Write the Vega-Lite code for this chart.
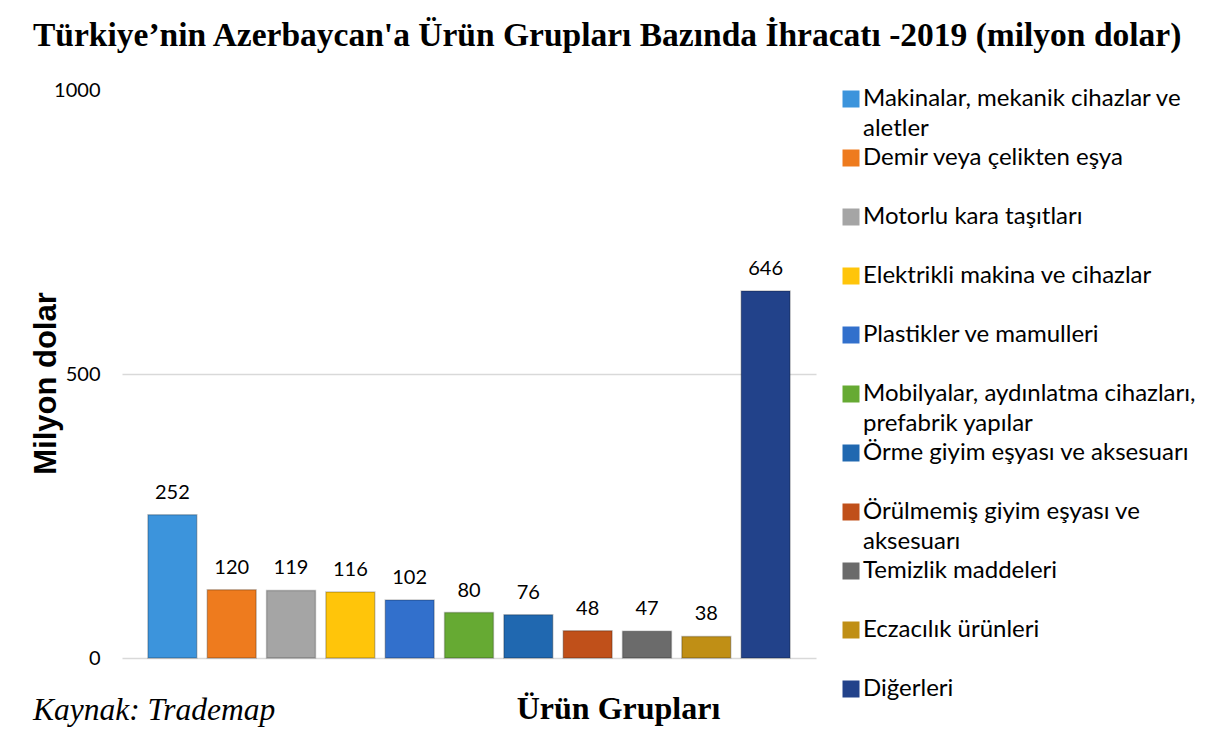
{
  "$schema": "https://vega.github.io/schema/vega-lite/v6.json",
  "width": 694,
  "height": 568,
  "autosize": "none",
  "padding": {"left": 122, "top": 90, "right": 400, "bottom": 71},
  "background": "white",
  "title": {
    "text": "Türkiye’nin Azerbaycan'a Ürün Grupları Bazında İhracatı -2019 (milyon dolar)",
    "anchor": "start",
    "frame": "group",
    "dx": -89,
    "offset": 1,
    "baseline": "alphabetic",
    "font": "Liberation Serif",
    "fontSize": 33.5,
    "fontWeight": "bold",
    "color": "#000000"
  },
  "config": {
    "view": {"stroke": null},
    "text": {"font": "Lato"},
    "style": {"guide-label": {"lineHeight": 30}}
  },
  "data": {
    "values": [
      {"urun": "Makinalar, mekanik cihazlar ve aletler", "deger": 252},
      {"urun": "Demir veya çelikten eşya", "deger": 120},
      {"urun": "Motorlu kara taşıtları", "deger": 119},
      {"urun": "Elektrikli makina ve cihazlar", "deger": 116},
      {"urun": "Plastikler ve mamulleri", "deger": 102},
      {"urun": "Mobilyalar, aydınlatma cihazları, prefabrik yapılar", "deger": 80},
      {"urun": "Örme giyim eşyası ve aksesuarı", "deger": 76},
      {"urun": "Örülmemiş giyim eşyası ve aksesuarı", "deger": 48},
      {"urun": "Temizlik maddeleri", "deger": 47},
      {"urun": "Eczacılık ürünleri", "deger": 38},
      {"urun": "Diğerleri", "deger": 646}
    ]
  },
  "encoding": {
    "x": {
      "field": "urun",
      "type": "nominal",
      "sort": null,
      "scale": {"paddingInner": 0.176, "paddingOuter": 0.437},
      "axis": {
        "labels": false,
        "ticks": false,
        "domain": false,
        "title": "Ürün Grupları",
        "titleFont": "Liberation Serif",
        "titleFontSize": 32,
        "titleFontWeight": "bold",
        "titleColor": "#000000",
        "titleX": 496,
        "titleY": 60,
        "titleAlign": "center",
        "titleBaseline": "alphabetic"
      }
    }
  },
  "layer": [
    {
      "mark": {"type": "bar", "stroke": "#000000", "strokeOpacity": 0.22, "strokeWidth": 1.5},
      "encoding": {
        "y": {
          "field": "deger",
          "type": "quantitative",
          "scale": {"domain": [0, 1000]},
          "axis": {
            "values": [0, 500, 1000],
            "format": "d",
            "ticks": false,
            "domain": false,
            "grid": true,
            "gridColor": "#d9d9d9",
            "gridWidth": 1.5,
            "gridOpacity": {"condition": {"test": "datum.value === 1000", "value": 0}, "value": 1},
            "labelFont": "Lato",
            "labelFontSize": 20,
            "labelColor": "#000000",
            "labelPadding": 22,
            "title": "Milyon dolar",
            "titleFont": "Liberation Sans",
            "titleFontSize": 31,
            "titleFontWeight": "bold",
            "titleColor": "#000000",
            "titleAngle": -90,
            "titleX": -67,
            "titleY": 293,
            "titleAlign": "center",
            "titleBaseline": "alphabetic"
          }
        },
        "fill": {
          "field": "urun",
          "type": "nominal",
          "sort": null,
          "scale": {
            "range": ["#3c94dc", "#ee7b1e", "#a5a5a5", "#ffc50a", "#3270cc", "#66aa33", "#2068b0", "#c0501a", "#6b6b6b", "#c08f15", "#22428a"]
          },
          "legend": {
            "orient": "none",
            "legendX": 717,
            "legendY": -3,
            "title": null,
            "padding": 0,
            "symbolType": "square",
            "symbolSize": 289,
            "symbolStrokeWidth": 0,
            "labelFont": "Lato",
            "labelFontSize": 24,
            "labelBaseline": "middle",
            "labelColor": "#000000",
            "labelLimit": 420,
            "labelOffset": 0,
            "rowPadding": 5,
            "labelExpr": "datum.label == 'Makinalar, mekanik cihazlar ve aletler' ? ['Makinalar, mekanik cihazlar ve', 'aletler'] : datum.label == 'Mobilyalar, aydınlatma cihazları, prefabrik yapılar' ? ['Mobilyalar, aydınlatma cihazları,', 'prefabrik yapılar'] : datum.label == 'Örülmemiş giyim eşyası ve aksesuarı' ? ['Örülmemiş giyim eşyası ve', 'aksesuarı'] : [datum.label, '']"
          }
        }
      }
    },
    {
      "mark": {"type": "text", "dy": -16, "baseline": "alphabetic", "fontSize": 20, "color": "#000000", "font": "Lato"},
      "encoding": {
        "y": {"field": "deger", "type": "quantitative"},
        "text": {"field": "deger", "type": "quantitative"}
      }
    },
    {
      "data": {"values": [{"not": "Kaynak: Trademap"}]},
      "mark": {"type": "text", "align": "left", "baseline": "alphabetic", "dx": -115, "font": "Liberation Serif", "fontStyle": "italic", "fontSize": 31.5, "color": "#000000"},
      "encoding": {
        "x": {"datum": "Makinalar, mekanik cihazlar ve aletler", "type": "nominal", "bandPosition": 0},
        "y": {"datum": -110, "type": "quantitative"},
        "text": {"field": "not", "type": "nominal"}
      }
    }
  ]
}
